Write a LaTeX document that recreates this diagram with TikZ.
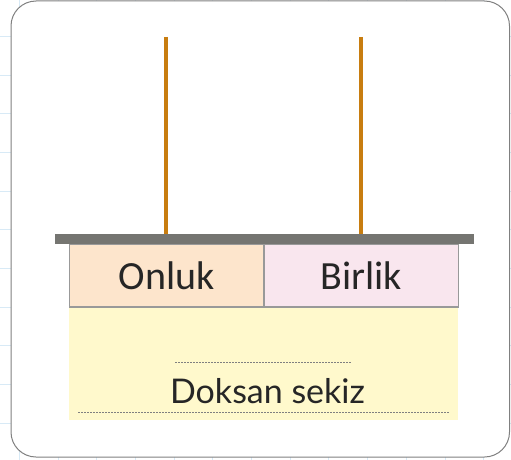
\documentclass[tikz,border=0pt]{standalone}
\usepackage{fontspec}
\newfontfamily\labelfont{Carlito}
\newfontfamily\wordfont{Lato}
\usetikzlibrary{positioning}
\definecolor{gridblue}{HTML}{D8EAF6}
\definecolor{rodorange}{HTML}{C87D10}
\definecolor{bargray}{HTML}{757571}
\definecolor{onlukfill}{HTML}{FDE5CC}
\definecolor{birlikfill}{HTML}{F9E6EE}
\definecolor{wordfill}{HTML}{FFF9CC}

\begin{document}
\begin{tikzpicture}[
    x=1pt, y=-1pt,
    rod/.style={draw=rodorange, line width=3.5pt},
    cell/.style={draw=gray!80, line width=0.8pt, minimum width=194pt, minimum height=62pt, inner sep=0pt, font=\labelfont\fontsize{40}{40}\selectfont, text=black!85},
    dotline/.style={draw=gray, line width=0.8pt, dash pattern=on 1.5pt off 1.5pt}
  ]
  \useasboundingbox (0,0) rectangle (511,460);
  % grid paper behind the card
  \foreach \gy in {36,74.7,...,440} \draw[gridblue] (0,\gy) -- (511,\gy);
  \foreach \gx in {19,57.7,...,511} \draw[gridblue] (\gx,0) -- (\gx,460);
  \draw[gray, line width=1pt, fill=white, rounded corners=25pt] (11,1) rectangle (509.5,457);

  % rods and bar
  \coordinate (tensTop) at (166,37);
  \coordinate (onesTop) at (361,37);
  \node[fill=bargray, minimum width=419pt, minimum height=10pt, inner sep=0pt] (bar) at (264,239) {};
  \draw[rod] (tensTop) -- (tensTop |- bar.north);
  \draw[rod] (onesTop) -- (onesTop |- bar.north);

  % place value cells
  \node[cell, fill=onlukfill, below right=0pt and 0pt of bar.south west, xshift=15pt] (onluk) {Onluk};
  \node[cell, fill=birlikfill, right=0pt of onluk] (birlik) {Birlik};

  % word area
  \node[fill=wordfill, minimum width=389pt, minimum height=113pt, inner sep=0pt, anchor=north west] (word) at (69,306.5) {};
  \draw[gray!80, line width=0.8pt] (onluk.south west) -- (birlik.south east);
  \coordinate (upA) at (175,362);
  \coordinate (upB) at (352,362);
  \draw[dotline] (upA) -- (upB);
  \node[font=\wordfont\fontsize{34}{34}\selectfont, text=black!85, anchor=base] (sayi) at (267.5,403) {Doksan sekiz};
  \coordinate (lowA) at (78,412);
  \coordinate (lowB) at (449,412);
  \draw[dotline] (lowA) -- (lowB);
\end{tikzpicture}
\end{document}
